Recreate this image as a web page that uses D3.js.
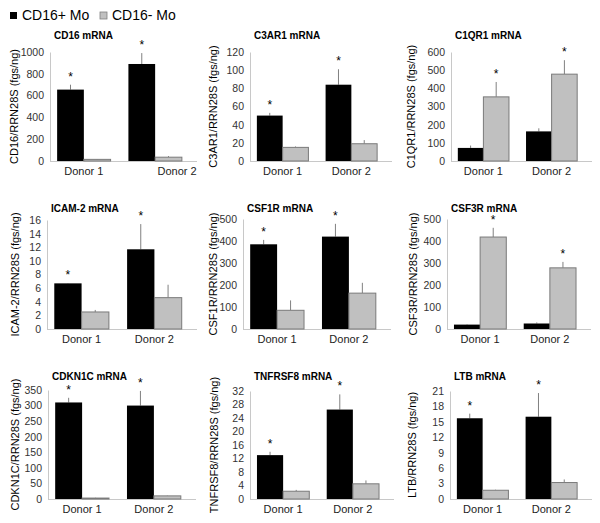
<!DOCTYPE html>
<html><head><meta charset="utf-8">
<script src="https://cdn.jsdelivr.net/npm/d3@7"></script>
<style>body{margin:0;background:#fff;} text{font-family:Arial, "Liberation Sans", sans-serif;}</style>
</head><body>
<svg id="c" width="600" height="523"></svg>
<script>
const donors = ["Donor 1", "Donor 2"];
const seriesNames = ["CD16+ Mo", "CD16- Mo"];
const titles = ["CD16 mRNA","C3AR1 mRNA","C1QR1 mRNA","ICAM-2 mRNA","CSF1R mRNA","CSF3R mRNA","CDKN1C mRNA","TNFRSF8 mRNA","LTB mRNA"];
const yLabels = ["CD16/RRN28S (fgs/ng)","C3AR1/RRN28S (fgs/ng)","C1QR1/RRN28S (fgs/ng)","ICAM-2/RRN28S (fgs/ng)","CSF1R/RRN28S (fgs/ng)","CSF3R/RRN28S (fgs/ng)","CDKN1C/RRN28S (fgs/ng)","TNFRSF8/RRN28S (fgs/ng)","LTB/RRN28S (fgs/ng)"];
const yMax = [1000,120,600,16,500,500,350,32,21];
const yStep = [200,20,100,2,100,100,50,4,3];
// values per panel: [donor1, donor2]
const posValues = [[655,890],[50,84],[72,163],[6.7,11.7],[385,420],[20,25],[310,300],[13,26.5],[15.7,16]];
const posErrTop = [[700,990],[53,101],[85,180],[6.75,15.4],[405,478],[22,30],[325,347],[14,31],[16.6,20.6]];
const negValues = [[15,35],[15,19],[353,478],[2.5,4.6],[85,163],[418,278],[3,10],[2.3,4.5],[1.7,3.2]];
const negErrTop = [[18,45],[16,23],[435,555],[2.8,6.5],[130,210],[460,305],[4,11],[2.7,5.5],[1.8,3.8]];
// which series is starred per donor (0 = CD16+, 1 = CD16-)
const starred = [[0,0],[0,0],[1,1],[0,0],[0,0],[1,1],[0,0],[0,0],[0,0]];

// layout
const axisX = [50,250,451,47,243,447,48,250,450];
const axisEnd = [197,392,592,197,391,591,196,394,592];
const plotTop = [52,52,52,220,219,219,390,391,391];
const plotBottom = [161,161,161,329,329,329,499,499,499];
const titleY = [39,39,39,212,212,212,380,380,380];
const ylabX = [14,213,411,15,213,413,15,214,412];
const donorLabelShift = [[0,22],[0,0],[0,0],[0,0],[0,0],[0,0],[0,0],[0,0],[0,0]];

const svg = d3.select("#c");
const colors = ["#000000","#c0c0c0"];
const FONT = "Arial, 'Liberation Sans', sans-serif";

// legend
const leg = svg.append("g");
seriesNames.forEach((s,i)=>{
  const x0 = i===0 ? 10 : 100;
  leg.append("rect").attr("x",x0).attr("y",12).attr("width",7).attr("height",7)
    .attr("fill",colors[i]).attr("stroke", i===1 ? "#808080" : "none").attr("stroke-width",0.8);
  leg.append("text").attr("x",x0+12).attr("y",20).attr("font-size",14).attr("fill","#000").text(s);
});

titles.forEach((t,p)=>{
  const g = svg.append("g");
  const y = d3.scaleLinear().domain([0,yMax[p]]).range([plotBottom[p],plotTop[p]]);
  const x = d3.scaleBand().domain(donors).range([axisX[p], axisEnd[p]-8]).paddingInner(0.25).paddingOuter(0.1);
  const xs = d3.scaleBand().domain([0,1]).range([0,x.bandwidth()]);

  // y axis
  const ax = g.append("g").attr("transform",`translate(${axisX[p]},0)`)
    .call(d3.axisLeft(y).tickValues(d3.range(0,yMax[p]+yStep[p]/2,yStep[p]))
      .tickFormat(d3.format("d")).tickSize(0).tickPadding(6));
  ax.select(".domain").attr("stroke","#c8c8c8");
  ax.selectAll("text").attr("font-size",10.5).attr("fill","#333").attr("font-family",FONT);

  // x axis
  const bx = g.append("g").attr("transform",`translate(0,${plotBottom[p]})`)
    .call(d3.axisBottom(x).tickSize(0).tickPadding(6));
  bx.select(".domain").attr("d",`M${axisX[p]},0.5H${axisEnd[p]}`).attr("stroke","#c8c8c8");
  bx.selectAll("text").attr("font-size",11).attr("fill","#222").attr("font-family",FONT)
    .attr("dx",(d,i)=>donorLabelShift[p][i]);

  const vals = [posValues[p], negValues[p]];
  const errs = [posErrTop[p], negErrTop[p]];
  donors.forEach((d,di)=>{
    [0,1].forEach(si=>{
      const bx0 = x(d)+xs(si);
      const cx = bx0 + xs.bandwidth()/2;
      // error bar
      g.append("line").attr("x1",cx).attr("x2",cx)
        .attr("y1",y(vals[si][di])).attr("y2",y(errs[si][di]))
        .attr("stroke","#808080").attr("stroke-width",1);
      g.append("rect").attr("x",bx0).attr("y",y(vals[si][di]))
        .attr("width",xs.bandwidth()).attr("height",plotBottom[p]-y(vals[si][di]))
        .attr("fill",colors[si]).attr("stroke", si===1 ? "#7a7a7a" : "none").attr("stroke-width",1);
      if (starred[p][di]===si) {
        g.append("text").attr("x",cx).attr("y",y(errs[si][di])-4)
          .attr("text-anchor","middle").attr("font-size",12).attr("fill","#000").text("*");
      }
    });
  });

  // title
  g.append("text").attr("x",axisX[p]+4).attr("y",titleY[p]).attr("font-size",10)
    .attr("font-weight","bold").attr("fill","#000").text(t);
  // y label
  const my = (plotTop[p]+plotBottom[p])/2;
  g.append("text").attr("transform",`translate(${ylabX[p]+4},${my}) rotate(-90)`)
    .attr("text-anchor","middle").attr("font-size",11).attr("fill","#000").text(yLabels[p]);
});
</script>
</body></html>
